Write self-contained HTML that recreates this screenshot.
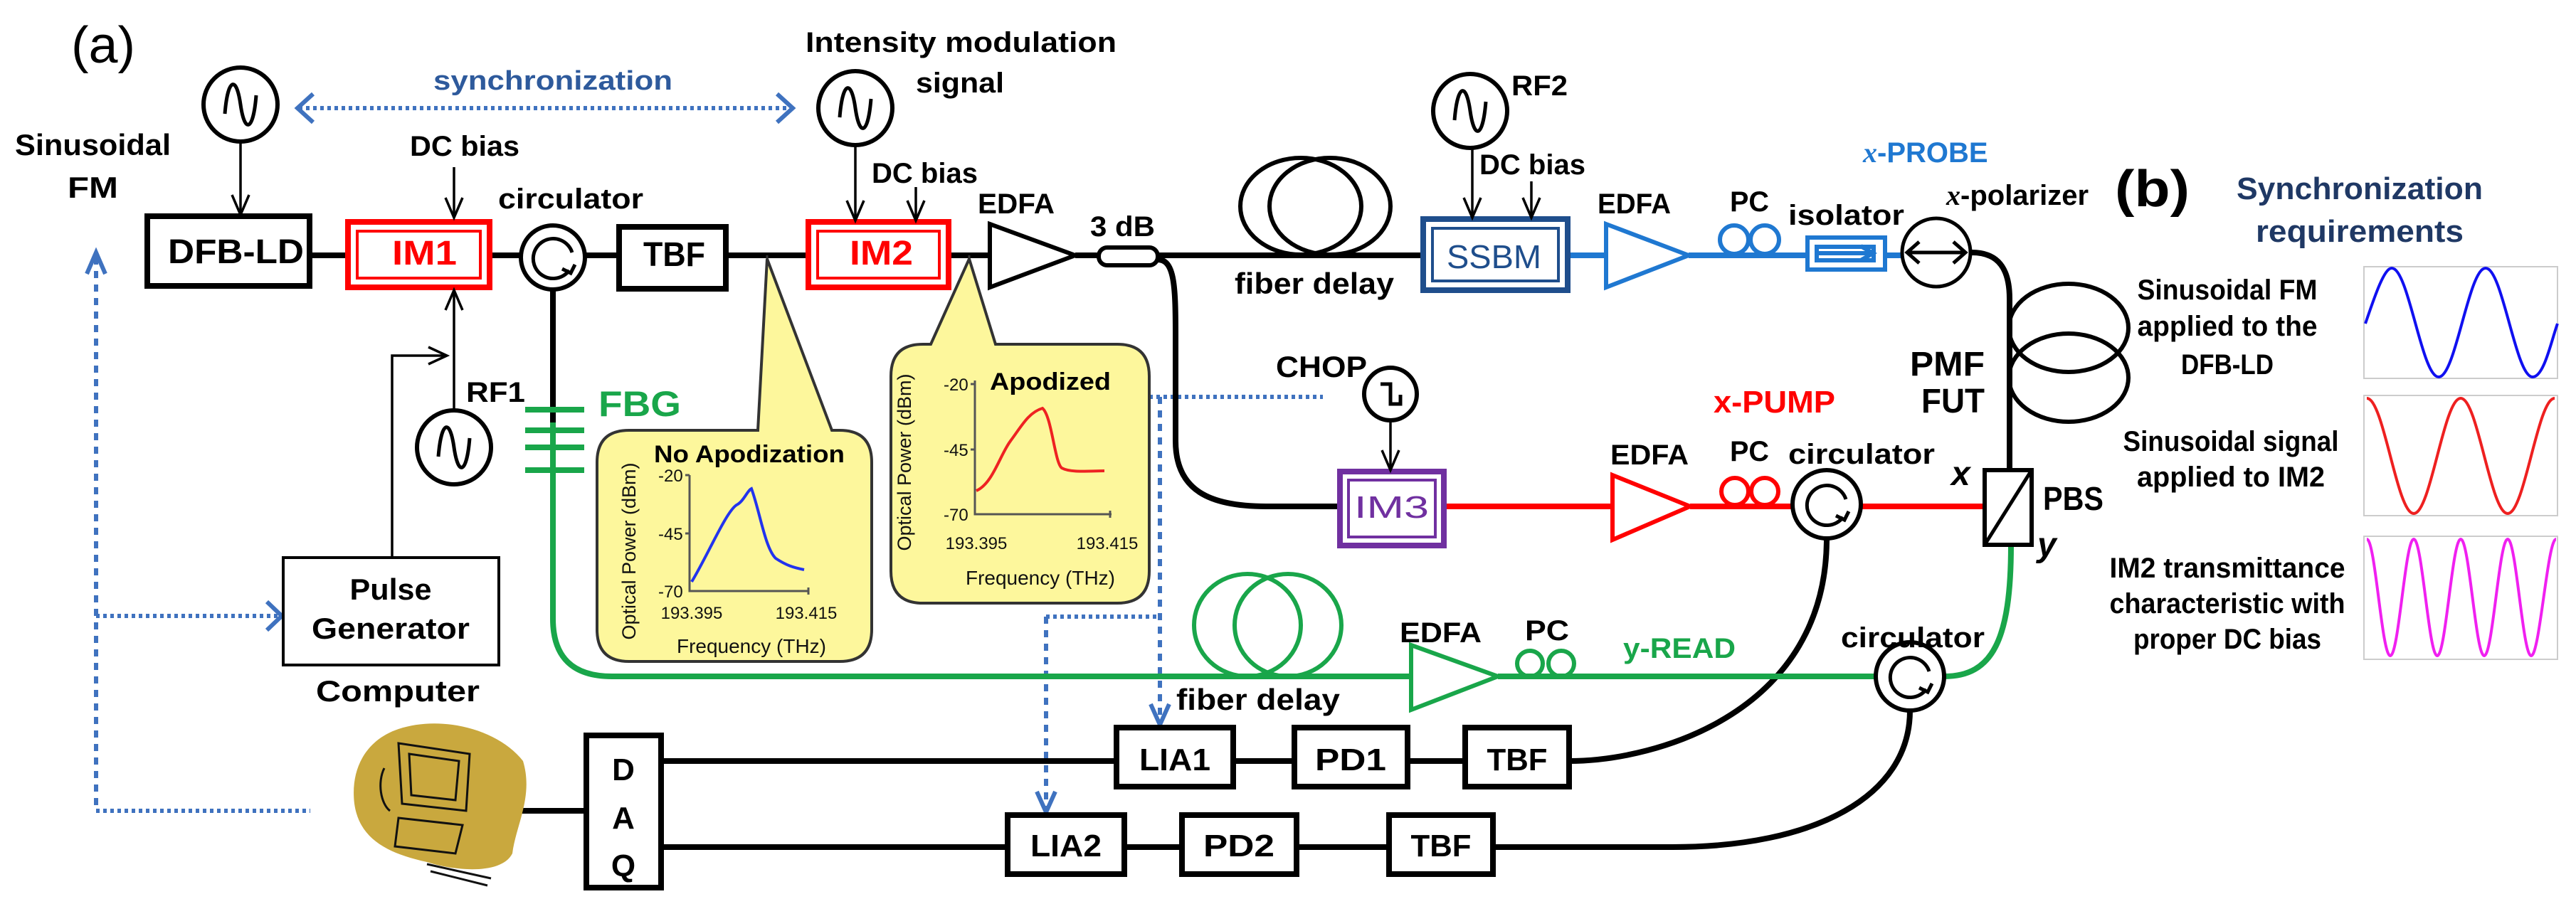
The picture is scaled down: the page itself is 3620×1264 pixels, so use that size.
<!DOCTYPE html>
<html><head><meta charset="utf-8"><style>
html,body{margin:0;padding:0;background:#fff;}
svg{display:block;}
text{font-family:"Liberation Sans",sans-serif;font-weight:bold;}
</style></head><body>
<svg width="3620" height="1264" viewBox="0 0 3620 1264" xmlns="http://www.w3.org/2000/svg">
<rect width="3620" height="1264" fill="#fff"/>

<!-- dotted blue control lines -->
<g stroke="#3f72bf" stroke-width="6" fill="none">
<line x1="420" y1="152" x2="1112" y2="152" stroke-dasharray="5 5"/>
<polyline points="440,132 418,152 440,172"/>
<polyline points="1092,132 1114,152 1092,172"/>
<line x1="135" y1="362" x2="135" y2="1140" stroke-dasharray="10 9"/>
<polyline points="122,385 135,355 148,385"/>
<line x1="135" y1="1140" x2="436" y2="1140" stroke-dasharray="5 5"/>
<line x1="135" y1="866" x2="392" y2="866" stroke-dasharray="5 5"/>
<polyline points="375,846 396,866 375,886"/>
<line x1="1615" y1="558" x2="1859" y2="558" stroke-dasharray="5 5"/>
<line x1="1630" y1="558" x2="1630" y2="1015" stroke-dasharray="10 9"/>
<polyline points="1617,990 1630,1019 1643,990"/>
<line x1="1470" y1="867" x2="1630" y2="867" stroke-dasharray="5 5"/>
<line x1="1470" y1="867" x2="1470" y2="1138" stroke-dasharray="10 9"/>
<polyline points="1457,1113 1470,1142 1483,1113"/>
</g>

<!-- yellow callouts -->
<g fill="#fdf79c" stroke="#333" stroke-width="4">
<path d="M884 605 L1065 605 L1078 364 L1169 605 L1180 605 Q1225 605 1225 650 L1225 885 Q1225 930 1180 930 L884 930 Q839 930 839 885 L839 650 Q839 605 884 605 Z"/>
<path d="M1297 484 L1308 484 L1362 364 L1399 484 L1570 484 Q1615 484 1615 529 L1615 803 Q1615 848 1570 848 L1297 848 Q1252 848 1252 803 L1252 529 Q1252 484 1297 484 Z"/>
</g>
<!-- plot no apodization -->
<g stroke="#555" stroke-width="3" fill="none">
<polyline points="969,668 969,831 1136,831"/>
<line x1="963" y1="750" x2="969" y2="750"/><line x1="963" y1="668" x2="969" y2="668"/>
<line x1="1136" y1="826" x2="1136" y2="836"/>
<polyline points="1370,535 1370,723 1562,723"/>
<line x1="1364" y1="632" x2="1370" y2="632"/><line x1="1364" y1="540" x2="1370" y2="540"/>
<line x1="1560" y1="718" x2="1560" y2="728"/>
</g>
<path d="M972 818 C995 780 1020 720 1035 710 C1045 705 1050 690 1056 687 C1068 720 1075 770 1090 785 C1105 795 1115 798 1130 801" stroke="#2233ee" stroke-width="4" fill="none"/>
<path d="M1372 690 C1395 680 1405 640 1420 620 C1435 600 1445 580 1465 574 C1478 585 1482 650 1492 658 C1505 665 1530 662 1552 662" stroke="#ee2222" stroke-width="4" fill="none"/>
<g font-size="24" font-weight="normal" fill="#111">
<text x="925" y="677" style="font-weight:normal">-20</text>
<text x="925" y="759" style="font-weight:normal">-45</text>
<text x="925" y="840" style="font-weight:normal">-70</text>
<text x="972" y="870" text-anchor="middle" style="font-weight:normal">193.395</text>
<text x="1133" y="870" text-anchor="middle" style="font-weight:normal">193.415</text>
<text x="1056" y="918" text-anchor="middle" font-size="28" style="font-weight:normal">Frequency (THz)</text>
<text transform="translate(893,775) rotate(-90)" text-anchor="middle" font-size="27" style="font-weight:normal">Optical Power (dBm)</text>
<text x="1326" y="549" style="font-weight:normal">-20</text>
<text x="1326" y="641" style="font-weight:normal">-45</text>
<text x="1326" y="732" style="font-weight:normal">-70</text>
<text x="1372" y="772" text-anchor="middle" style="font-weight:normal">193.395</text>
<text x="1556" y="772" text-anchor="middle" style="font-weight:normal">193.415</text>
<text x="1462" y="822" text-anchor="middle" font-size="28" style="font-weight:normal">Frequency (THz)</text>
<text transform="translate(1280,650) rotate(-90)" text-anchor="middle" font-size="27" style="font-weight:normal">Optical Power (dBm)</text>
</g>
<text x="919" y="650" font-size="34" textLength="268" lengthAdjust="spacingAndGlyphs">No Apodization</text>
<text x="1391" y="548" font-size="34" textLength="170" lengthAdjust="spacingAndGlyphs">Apodized</text>

<!-- black fibers -->
<g stroke="#000" stroke-width="8" fill="none">
<line x1="435" y1="359" x2="489" y2="359"/>
<line x1="688" y1="359" x2="732" y2="359"/>
<line x1="822" y1="359" x2="870" y2="359"/>
<line x1="1020" y1="359" x2="1136" y2="359"/>
<line x1="1333" y1="359" x2="1391" y2="359"/>
<line x1="1511" y1="359" x2="1544" y2="359"/>
<line x1="1627" y1="359" x2="2000" y2="359"/>
<line x1="777" y1="405" x2="777" y2="594"/>
<path d="M1627 365 C1650 365 1652 400 1652 470 L1652 620 C1652 690 1700 712 1780 712 L1883 712"/>
<path d="M2771 355 C2810 355 2824 380 2824 420 L2824 661"/>
<line x1="929" y1="1070" x2="1569" y2="1070"/>
<line x1="1733" y1="1070" x2="1819" y2="1070"/>
<line x1="1978" y1="1070" x2="2059" y2="1070"/>
<path d="M2205 1070 C2330 1070 2567 1000 2567 757"/>
<line x1="929" y1="1191" x2="1416" y2="1191"/>
<line x1="1580" y1="1191" x2="1661" y2="1191"/>
<line x1="1822" y1="1191" x2="1952" y2="1191"/>
<path d="M2098 1191 L2350 1191 C2550 1191 2684 1120 2684 999"/>
<line x1="732" y1="1140" x2="824" y2="1140"/>
</g>
<line x1="1078" y1="359" x2="1078" y2="370" stroke="#333" stroke-width="3"/>
<line x1="1362" y1="359" x2="1362" y2="370" stroke="#333" stroke-width="3"/>
<!-- fiber delay loops -->
<g stroke="#000" stroke-width="6" fill="none">
<ellipse cx="1828" cy="290" rx="85" ry="68"/>
<ellipse cx="1869" cy="290" rx="85" ry="68"/>
<ellipse cx="2907" cy="461" rx="84" ry="62"/>
<ellipse cx="2907" cy="531" rx="84" ry="62"/>
</g>

<!-- green path -->
<g stroke="#19a64a" stroke-width="8" fill="none">
<path d="M777 594 L777 870 Q777 951 860 951 L1983 951"/>
<line x1="2105" y1="951" x2="2636" y2="951"/>
<path d="M2732 951 C2800 951 2826 900 2826 766"/>
<line x1="738" y1="576" x2="821" y2="576"/>
<line x1="738" y1="605" x2="821" y2="605"/>
<line x1="738" y1="629" x2="821" y2="629"/>
<line x1="738" y1="661" x2="821" y2="661"/>
</g>
<g stroke="#19a64a" stroke-width="6" fill="none">
<ellipse cx="1753" cy="879" rx="75" ry="72"/>
<ellipse cx="1810" cy="879" rx="75" ry="72"/>
<polygon points="1983,907 2105,951 1983,998" fill="#fff"/>
<circle cx="2150" cy="933" r="18"/><circle cx="2194" cy="933" r="18"/>
</g>

<!-- red path -->
<g stroke="#ff0000" stroke-width="8" fill="none">
<line x1="2029" y1="712" x2="2266" y2="712"/>
<line x1="2375" y1="712" x2="2519" y2="712"/>
<line x1="2615" y1="712" x2="2789" y2="712"/>
</g>
<g stroke="#ff0000" stroke-width="6" fill="none">
<polygon points="2266,668 2375,712 2266,759" fill="#fff"/>
<circle cx="2438" cy="691" r="19"/><circle cx="2480" cy="691" r="19"/>
</g>

<!-- blue path -->
<g stroke="#1f78d1" stroke-width="8" fill="none">
<line x1="2203" y1="359" x2="2257" y2="359"/>
<line x1="2373" y1="359" x2="2540" y2="359"/>
<line x1="2649" y1="359" x2="2673" y2="359"/>
</g>
<g stroke="#1f78d1" stroke-width="6" fill="none">
<polygon points="2257,315 2373,359 2257,404" fill="#fff"/>
<circle cx="2437" cy="337" r="20"/><circle cx="2480" cy="337" r="20"/>
<rect x="2540" y="334" width="109" height="45" fill="#fff"/>
<rect x="2553" y="347" width="80" height="19"/>
<polyline points="2555,356 2632,356"/><polyline points="2615,346 2632,356 2615,366"/>
</g>

<!-- boxes -->
<g fill="#fff" stroke="#000" stroke-width="8">
<rect x="207" y="304" width="228" height="98"/>
<rect x="870" y="319" width="150" height="87"/>
<rect x="824" y="1034" width="105" height="214"/>
<rect x="1569" y="1023" width="164" height="83"/>
<rect x="1819" y="1023" width="159" height="83"/>
<rect x="2059" y="1023" width="146" height="83"/>
<rect x="1416" y="1146" width="164" height="83"/>
<rect x="1661" y="1146" width="161" height="83"/>
<rect x="1952" y="1146" width="146" height="83"/>
</g>
<rect x="398" y="784" width="303" height="151" fill="#fff" stroke="#000" stroke-width="4"/>
<!-- IM boxes -->
<g fill="#fff" stroke="#ff0000">
<rect x="489" y="312" width="199" height="92" stroke-width="8"/>
<rect x="502" y="325" width="173" height="66" stroke-width="4"/>
<rect x="1136" y="312" width="197" height="92" stroke-width="8"/>
<rect x="1149" y="325" width="171" height="66" stroke-width="4"/>
</g>
<g fill="#fff" stroke="#1f4e8c">
<rect x="2000" y="308" width="203" height="100" stroke-width="8"/>
<rect x="2013" y="321" width="177" height="74" stroke-width="4"/>
</g>
<g fill="#fff" stroke="#7030a0">
<rect x="1883" y="663" width="146" height="104" stroke-width="8"/>
<rect x="1895" y="675" width="122" height="80" stroke-width="4"/>
</g>
<!-- EDFA black -->
<polygon points="1391,315 1511,359 1391,404" fill="#fff" stroke="#000" stroke-width="6"/>
<!-- coupler -->
<rect x="1544" y="348" width="83" height="25" rx="12" fill="#fff" stroke="#000" stroke-width="6"/>
<!-- polarizer -->
<circle cx="2721" cy="355" r="48" fill="#fff" stroke="#000" stroke-width="5"/>
<g stroke="#000" stroke-width="5" fill="none">
<line x1="2681" y1="355" x2="2761" y2="355"/>
<polyline points="2697,340 2680,355 2697,370"/><polyline points="2745,340 2762,355 2745,370"/>
<rect x="2789" y="661" width="66" height="105" fill="#fff" stroke-width="6"/>
<line x1="2789" y1="766" x2="2855" y2="661" stroke-width="5"/>
</g>

<!-- circulators -->
<g fill="#fff" stroke="#000" stroke-width="6">
<circle cx="777" cy="362" r="45"/>
<circle cx="2567" cy="709" r="48"/>
<circle cx="2684" cy="951" r="48"/>
</g>
<g fill="none" stroke="#000" stroke-width="5">
<path d="M800 380 A28 28 0 1 1 804 355"/><polyline points="790,378 802,384 808,372"/>
<path d="M2590 727 A28 28 0 1 1 2594 702"/><polyline points="2580,725 2592,731 2598,719"/>
<path d="M2707 969 A28 28 0 1 1 2711 944"/><polyline points="2697,967 2709,973 2715,961"/>
</g>

<!-- sine sources -->
<g fill="#fff" stroke="#000" stroke-width="6">
<circle cx="338" cy="147" r="52"/>
<circle cx="1202" cy="152" r="52"/>
<circle cx="2066" cy="156" r="52"/>
<circle cx="638" cy="629" r="52"/>
<circle cx="1954" cy="554" r="37"/>
</g>
<g fill="none" stroke="#000" stroke-width="5">
<path d="M316 160 C320 110 332 105 338 147 C344 189 356 184 360 134"/>
<path d="M1180 165 C1184 115 1196 110 1202 152 C1208 194 1220 189 1224 139"/>
<path d="M2044 169 C2048 119 2060 114 2066 156 C2072 198 2084 193 2088 143"/>
<path d="M616 642 C620 592 632 587 638 629 C644 671 656 666 660 616"/>
<polyline points="1940,540 1954,540 1954,568 1968,568 1968,555"/>
</g>

<!-- black arrows -->
<g stroke="#000" stroke-width="3.5" fill="none">
<line x1="338" y1="199" x2="338" y2="302"/><polyline points="326,274 338,302 350,274"/>
<line x1="638" y1="235" x2="638" y2="306"/><polyline points="626,278 638,306 650,278"/>
<line x1="638" y1="577" x2="638" y2="408"/><polyline points="626,436 638,408 650,436"/>
<polyline points="551,784 551,500 628,500"/><polyline points="602,488 628,500 602,512"/>
<line x1="1202" y1="204" x2="1202" y2="310"/><polyline points="1190,282 1202,310 1214,282"/>
<line x1="1287" y1="263" x2="1287" y2="310"/><polyline points="1275,282 1287,310 1299,282"/>
<line x1="2069" y1="208" x2="2069" y2="306"/><polyline points="2057,278 2069,306 2081,278"/>
<line x1="2152" y1="255" x2="2152" y2="306"/><polyline points="2140,278 2152,306 2164,278"/>
<line x1="1954" y1="591" x2="1954" y2="661"/><polyline points="1942,633 1954,661 1966,633"/>
</g>

<!-- computer clipart -->
<path d="M560 1025 C620 1005 700 1025 735 1070 C750 1120 725 1160 720 1200 C705 1230 640 1225 600 1212 C545 1200 505 1180 498 1130 C492 1080 515 1040 560 1025 Z" fill="#c9a83e"/>
<g stroke="#111" stroke-width="3" fill="none">
<path d="M560 1045 L660 1060 L655 1140 L565 1130 Z"/>
<path d="M575 1060 L645 1070 L640 1125 L578 1118 Z"/>
<path d="M540 1080 C530 1100 535 1130 548 1140"/>
<path d="M560 1150 L650 1160 L640 1200 L555 1190 Z"/>
<path d="M600 1215 L690 1235 M605 1225 L685 1245"/>
</g>

<!-- right panel plots -->
<g fill="none" stroke="#ccc" stroke-width="2">
<rect x="3322" y="375" width="272" height="157"/>
<rect x="3322" y="556" width="272" height="169"/>
<rect x="3322" y="754" width="272" height="173"/>
</g>
<path d="M3324 455 C3336 420 3350 377 3361 377 C3385 377 3403 530 3427 530 C3451 530 3469 377 3493 377 C3517 377 3535 530 3559 530 C3575 530 3585 480 3594 455" fill="none" stroke="#1010f0" stroke-width="4"/>
<path d="M3326 560 C3350 560 3368 722 3392 722 C3416 722 3434 560 3458 560 C3482 560 3500 722 3524 722 C3548 722 3566 560 3590 560" fill="none" stroke="#ee2020" stroke-width="4"/>
<path d="M3326 758 C3338 758 3347 922 3359 922 C3371 922 3380 758 3392 758 C3404 758 3413 922 3425 922 C3437 922 3446 758 3458 758 C3470 758 3479 922 3491 922 C3503 922 3512 758 3524 758 C3536 758 3545 922 3557 922 C3569 922 3580 758 3592 758" fill="none" stroke="#f020f0" stroke-width="4"/>

<!-- texts -->
<g fill="#000">
<text x="100" y="88" font-size="72" style="font-weight:normal" textLength="90" lengthAdjust="spacingAndGlyphs">(a)</text>
<text x="609" y="126" font-size="38" fill="#2e5a9c" textLength="336" lengthAdjust="spacingAndGlyphs">synchronization</text>
<text x="1132" y="73" font-size="40" textLength="437" lengthAdjust="spacingAndGlyphs">Intensity modulation</text>
<text x="1287" y="130" font-size="40" textLength="124" lengthAdjust="spacingAndGlyphs">signal</text>
<text x="21" y="218" font-size="42" textLength="219" lengthAdjust="spacingAndGlyphs">Sinusoidal</text>
<text x="95" y="278" font-size="42" textLength="71" lengthAdjust="spacingAndGlyphs">FM</text>
<text x="576" y="219" font-size="40" textLength="154" lengthAdjust="spacingAndGlyphs">DC bias</text>
<text x="700" y="293" font-size="40" textLength="204" lengthAdjust="spacingAndGlyphs">circulator</text>
<text x="236" y="370" font-size="48" textLength="191" lengthAdjust="spacingAndGlyphs">DFB-LD</text>
<text x="551" y="372" font-size="48" fill="#ff0000" textLength="91" lengthAdjust="spacingAndGlyphs">IM1</text>
<text x="904" y="374" font-size="48" textLength="87" lengthAdjust="spacingAndGlyphs">TBF</text>
<text x="1194" y="372" font-size="48" fill="#ff0000" textLength="89" lengthAdjust="spacingAndGlyphs">IM2</text>
<text x="1225" y="257" font-size="40" textLength="149" lengthAdjust="spacingAndGlyphs">DC bias</text>
<text x="1374" y="300" font-size="40" textLength="108" lengthAdjust="spacingAndGlyphs">EDFA</text>
<text x="1532" y="332" font-size="40" textLength="91" lengthAdjust="spacingAndGlyphs">3 dB</text>
<text x="1735" y="413" font-size="42" textLength="224" lengthAdjust="spacingAndGlyphs">fiber delay</text>
<text x="2124" y="134" font-size="40" textLength="79" lengthAdjust="spacingAndGlyphs">RF2</text>
<text x="2079" y="245" font-size="40" textLength="149" lengthAdjust="spacingAndGlyphs">DC bias</text>
<text x="2033" y="377" font-size="46" fill="#1f4e8c" style="font-weight:normal" textLength="133" lengthAdjust="spacingAndGlyphs">SSBM</text>
<text x="2245" y="300" font-size="40" textLength="103" lengthAdjust="spacingAndGlyphs">EDFA</text>
<text x="2431" y="297" font-size="40" textLength="55" lengthAdjust="spacingAndGlyphs">PC</text>
<text x="2513" y="316" font-size="40" textLength="163" lengthAdjust="spacingAndGlyphs">isolator</text>
<text x="2618" y="228" font-size="40" fill="#1f78d1"><tspan font-family="Liberation Serif,serif" font-style="italic">x</tspan>-PROBE</text>
<text x="2735" y="288" font-size="40"><tspan font-family="Liberation Serif,serif" font-style="italic">x</tspan>-polarizer</text>
<text x="2972" y="290" font-size="72" textLength="105" lengthAdjust="spacingAndGlyphs">(b)</text>
<text x="3316" y="280" font-size="44" fill="#1f3864" text-anchor="middle" textLength="346" lengthAdjust="spacingAndGlyphs">Synchronization</text>
<text x="3316" y="340" font-size="44" fill="#1f3864" text-anchor="middle" textLength="292" lengthAdjust="spacingAndGlyphs">requirements</text>
<text x="2684" y="528" font-size="48" textLength="105" lengthAdjust="spacingAndGlyphs">PMF</text>
<text x="2700" y="580" font-size="48" textLength="89" lengthAdjust="spacingAndGlyphs">FUT</text>
<text x="2871" y="717" font-size="46" textLength="85" lengthAdjust="spacingAndGlyphs">PBS</text>
<text x="2742" y="682" font-size="48" font-family="Liberation Serif,serif" font-style="italic">x</text>
<text x="2863" y="782" font-size="48" font-family="Liberation Serif,serif" font-style="italic">y</text>
<text x="2408" y="580" font-size="44" fill="#ff0000" textLength="171" lengthAdjust="spacingAndGlyphs">x-PUMP</text>
<text x="2431" y="648" font-size="40" textLength="55" lengthAdjust="spacingAndGlyphs">PC</text>
<text x="2513" y="652" font-size="40" textLength="206" lengthAdjust="spacingAndGlyphs">circulator</text>
<text x="2587" y="910" font-size="40" textLength="202" lengthAdjust="spacingAndGlyphs">circulator</text>
<text x="2263" y="653" font-size="40" textLength="110" lengthAdjust="spacingAndGlyphs">EDFA</text>
<text x="1793" y="530" font-size="42" textLength="128" lengthAdjust="spacingAndGlyphs">CHOP</text>
<text x="841" y="585" font-size="50" fill="#19a64a" textLength="116" lengthAdjust="spacingAndGlyphs">FBG</text>
<text x="655" y="565" font-size="40" textLength="83" lengthAdjust="spacingAndGlyphs">RF1</text>
<text x="549" y="843" font-size="42" text-anchor="middle" textLength="115" lengthAdjust="spacingAndGlyphs">Pulse</text>
<text x="549" y="898" font-size="42" text-anchor="middle" textLength="222" lengthAdjust="spacingAndGlyphs">Generator</text>
<text x="444" y="986" font-size="42" textLength="230" lengthAdjust="spacingAndGlyphs">Computer</text>
<text x="1653" y="998" font-size="42" textLength="230" lengthAdjust="spacingAndGlyphs">fiber delay</text>
<text x="1967" y="903" font-size="40" textLength="115" lengthAdjust="spacingAndGlyphs">EDFA</text>
<text x="2143" y="900" font-size="40" textLength="62" lengthAdjust="spacingAndGlyphs">PC</text>
<text x="2281" y="925" font-size="40" fill="#19a64a" textLength="158" lengthAdjust="spacingAndGlyphs">y-READ</text>
<text x="1651" y="1083" font-size="44" text-anchor="middle" textLength="100" lengthAdjust="spacingAndGlyphs">LIA1</text>
<text x="1898" y="1083" font-size="44" text-anchor="middle" textLength="100" lengthAdjust="spacingAndGlyphs">PD1</text>
<text x="2132" y="1083" font-size="44" text-anchor="middle" textLength="85" lengthAdjust="spacingAndGlyphs">TBF</text>
<text x="1498" y="1204" font-size="44" text-anchor="middle" textLength="100" lengthAdjust="spacingAndGlyphs">LIA2</text>
<text x="1741" y="1204" font-size="44" text-anchor="middle" textLength="100" lengthAdjust="spacingAndGlyphs">PD2</text>
<text x="2025" y="1204" font-size="44" text-anchor="middle" textLength="85" lengthAdjust="spacingAndGlyphs">TBF</text>
<text x="876" y="1097" font-size="44" text-anchor="middle">D</text>
<text x="876" y="1165" font-size="44" text-anchor="middle">A</text>
<text x="876" y="1232" font-size="44" text-anchor="middle">Q</text>
<text x="3130" y="421" font-size="40" text-anchor="middle" textLength="253" lengthAdjust="spacingAndGlyphs">Sinusoidal FM</text>
<text x="3130" y="472" font-size="40" text-anchor="middle" textLength="253" lengthAdjust="spacingAndGlyphs">applied to the</text>
<text x="3130" y="526" font-size="40" text-anchor="middle" textLength="130" lengthAdjust="spacingAndGlyphs">DFB-LD</text>
<text x="3135" y="634" font-size="40" text-anchor="middle" textLength="303" lengthAdjust="spacingAndGlyphs">Sinusoidal signal</text>
<text x="3135" y="684" font-size="40" text-anchor="middle" textLength="264" lengthAdjust="spacingAndGlyphs">applied to IM2</text>
<text x="3130" y="812" font-size="40" text-anchor="middle" textLength="331" lengthAdjust="spacingAndGlyphs">IM2 transmittance</text>
<text x="3130" y="862" font-size="40" text-anchor="middle" textLength="331" lengthAdjust="spacingAndGlyphs">characteristic with</text>
<text x="3130" y="912" font-size="40" text-anchor="middle" textLength="264" lengthAdjust="spacingAndGlyphs">proper DC bias</text>
<text x="1903" y="728" font-size="44" fill="#7030a0" style="font-weight:normal" textLength="105" lengthAdjust="spacingAndGlyphs">IM3</text>
</g>
</svg>
</body></html>
